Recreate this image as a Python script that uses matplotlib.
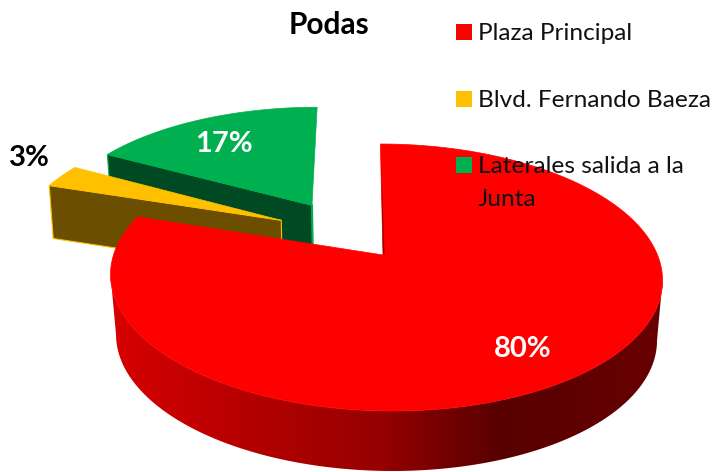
import numpy as np
import matplotlib
matplotlib.use('Agg')
import matplotlib.pyplot as plt

plt.rcParams['font.family'] = ['Lato', 'DejaVu Sans']

categories = ['Plaza Principal', 'Blvd. Fernando Baeza', 'Laterales salida a la\nJunta']
values = [80, 3, 17]
pct_labels = ['80%', '3%', '17%']
colors = ['#ff0000', '#ffc000', '#00b050']
wall_colors = ['#8b0000', '#6b4e00', '#004a23']

# explode offset of each slice on the pie disk (u right, v back)
explode_u = [0, -0.395, -0.28]
explode_v = [0, 0.28, 0.41]
depths = [60, 53, 56]

# perspective of the pie, fitted on the picture (pixels)
CX, CY = 385.5, 255
APEX_X = 383
A, B, C, SKEW = 129.7, 0.1685, 272, -6


def project(u, v):
    d = 1 + B * v
    return CX + (C * u + SKEW * v) / d, CY - A * v / d


def rim(th, ex_u, ex_v):
    # th in degrees, clockwise from the top
    t = np.radians(th)
    return project(np.sin(t) + ex_u, np.cos(t) + ex_v)


fig = plt.figure(figsize=(7.12, 4.72), dpi=100)
ax = fig.add_axes([0, 0, 1, 1])

edges = np.cumsum([0] + values) * 3.6

# back slices first: green, yellow, then red on top
for i in [2, 1]:
    th = np.linspace(edges[i], edges[i + 1], 60)
    x, y = rim(th, explode_u[i], explode_v[i])
    ax0, ay0 = project(explode_u[i], explode_v[i])
    x0, y0 = x[0], y[0]
    ax.fill([x0, ax0, ax0 + 1, x0 + 4], [y0, ay0, ay0 + depths[i], y0 + depths[i]],
            fc=wall_colors[i], ec=colors[i], lw=0.8, zorder=2 + (2 - i) * 2)
    ax.fill(np.r_[ax0, x], np.r_[ay0, y], fc=colors[i], ec=colors[i], lw=0.5,
            zorder=3 + (2 - i) * 2)

# right side strip of the green slice
ax0, ay0 = project(explode_u[2], explode_v[2])
ax.plot([ax0, ax0 + 1], [ay0, ay0 + depths[2]], color=colors[2], lw=1.5, zorder=2)

# red side, shaded from left to right, only the front part of the rim
th = np.linspace(40, edges[1], 600)
x, y = rim(th, 0, 0)
first, last = np.argmax(x), np.argmin(x)
x, y = x[first:last + 1], y[first:last + 1]
xb = 386 + (x - 386) * 0.98
yb = y + depths[0]
shade_x = [110, 250, 380, 500, 662]
shade_r = [216, 180, 150, 88, 104]
columns = np.arange(712) + 0.5
shade = np.zeros((1, 712, 3))
shade[0, :, 0] = np.interp(columns, shade_x, shade_r) / 255
img = ax.imshow(shade, extent=(0, 712, 472, 0), aspect='auto', zorder=8)
side = plt.Polygon(np.c_[np.r_[x, xb[::-1]], np.r_[y, yb[::-1]]], closed=True,
                   transform=ax.transData)
img.set_clip_path(side)

# red top
th = np.linspace(edges[0], edges[1], 300)
x, y = rim(th, 0, 0)
ax.fill(np.r_[APEX_X, x], np.r_[CY, y], fc=colors[0], ec=colors[0], lw=0.5, zorder=9)

# thin dark face along the start of the red slice
sx, sy = project(0.0, 0.85)
ax.fill([sx, APEX_X, APEX_X + 1.5], [sy, CY, CY], fc=wall_colors[0], ec='none', zorder=10)

ax.set_xlim(0, 712)
ax.set_ylim(472, 0)
ax.axis('off')

# labels
ax.text(523, 349, pct_labels[0], color='white', fontsize=21, fontweight='bold',
        ha='center', va='center', zorder=12)
ax.text(224, 144, pct_labels[2], color='white', fontsize=21, fontweight='bold',
        ha='center', va='center', zorder=12)
ax.text(29, 158, pct_labels[1], color='black', fontsize=21, fontweight='bold',
        ha='center', va='center', zorder=12)
ax.text(329, 25, 'Podas', color='black', fontsize=21.5, fontweight='bold',
        ha='center', va='center', zorder=12)

# legend
leg_y = [40, 107, 173]
for i in range(3):
    ax.add_patch(plt.Rectangle((456, leg_y[i] - 16), 16, 16, fc=colors[i], ec='none', zorder=12))
    parts = categories[i].split('\n')
    ax.text(478, leg_y[i], parts[0], color='#111111', fontsize=17.6, va='baseline', zorder=12)
    if len(parts) > 1:
        ax.text(478, leg_y[i] + 33, parts[1], color='#111111', fontsize=17.6, va='baseline', zorder=12)

fig.savefig('out.png', dpi=100)
